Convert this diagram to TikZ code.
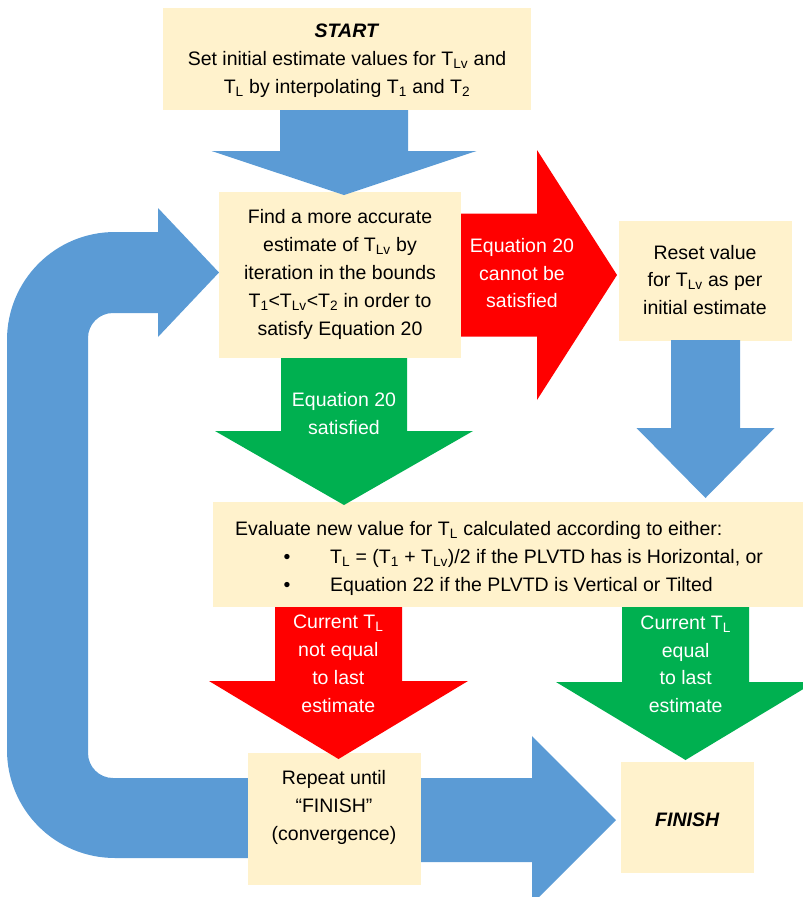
\documentclass[tikz,border=0pt]{standalone}
\usepackage{fontspec}
\setmainfont{Liberation Sans}
\definecolor{myblue}{HTML}{5B9BD5}
\definecolor{myred}{HTML}{FF0000}
\definecolor{mygreen}{HTML}{00B050}
\definecolor{cream}{HTML}{FFF2CC}
\newcommand{\sub}[1]{\textsubscript{#1}}
\newcommand{\NL}{\\\strut}
% color, cx, ytop, yhead, ytip, shaft half width, head half width
\newcommand{\dnarrow}[7]{\fill[#1] (#2-#6,#3) -- (#2+#6,#3) -- (#2+#6,#4) -- (#2+#7,#4) -- (#2,#5) -- (#2-#7,#4) -- (#2-#6,#4) -- cycle;}
% color, cy, xleft, xhead, xtip, shaft half height, head half height
\newcommand{\rtarrow}[7]{\fill[#1] (#3,#2-#6) -- (#4,#2-#6) -- (#4,#2-#7) -- (#5,#2) -- (#4,#2+#7) -- (#4,#2+#6) -- (#3,#2+#6) -- cycle;}
\begin{document}
\begin{tikzpicture}[x=1pt,y=-1pt,
  box/.style={fill=cream, draw=none, inner sep=0pt},
  txt/.style={align=center, inner sep=0pt, font=\fontsize{19.5}{27.8}\selectfont, execute at begin node=\strut},
  wtxt/.style={txt, text=white},
  line/.style={inner sep=0pt, font=\fontsize{19.5}{27.8}\selectfont}]
\useasboundingbox (0,0) rectangle (803,897);
\clip (0,0) rectangle (803,897);

% loop-back arrow (behind boxes)
\fill[myblue] (300,778) -- (113,778) .. controls (99.2,778) and (88,766.8) .. (88,753)
  -- (88,338) .. controls (88,324.2) and (99.2,313) .. (113,313)
  -- (158,313) -- (158,337) -- (219,272.5) -- (158,208) -- (158,232)
  -- (115,232) .. controls (55.2,232) and (7,280.2) .. (7,340)
  -- (7,750) .. controls (7,809.8) and (55.2,858) .. (115,858)
  -- (300,858) -- cycle;
% bottom arrow to FINISH
\rtarrow{myblue}{820}{400}{532}{616}{42}{84}

% boxes
\node[box, minimum width=368pt, minimum height=102pt] (start) at (347,59) {};
\node[box, minimum width=242pt, minimum height=166pt] (find) at (340,275) {};
\node[box, minimum width=173pt, minimum height=120pt] (reset) at (705.5,281) {};
\node[box, minimum width=590pt, minimum height=105pt] (eval) at (508,554.5) {};
\node[box, minimum width=173pt, minimum height=132pt] (repeat) at (334.5,819) {};
\node[box, minimum width=133pt, minimum height=111pt] (finish) at (687.5,817.5) {};

% block arrows
\dnarrow{myblue}{344}{110}{151}{195}{64}{132.5}
\rtarrow{myred}{275}{461}{537}{617}{61.5}{125}
\dnarrow{myblue}{705.5}{340}{428}{498}{34.5}{69}
\dnarrow{mygreen}{344}{358}{431}{505}{63}{129}
\dnarrow{myred}{338.5}{607}{681}{759}{63.5}{129.5}
\dnarrow{mygreen}{685.5}{607}{682}{760}{63.5}{129.5}

% texts in boxes
\node[txt] (starttxt) at (347,62.9) {\textbf{\textit{START}}\NL Set initial estimate values for T\sub{Lv} and\NL T\sub{L} by interpolating T\sub{1} and T\sub{2}};
\node[txt] (findtxt) at (340,276.7) {Find a more accurate\NL estimate of T\sub{Lv} by\NL iteration in the bounds\NL T\sub{1}<T\sub{Lv}<T\sub{2} in order to\NL satisfy Equation 20};
\node[txt] (resettxt) at (705,283.9) {Reset value\NL for T\sub{Lv} as per\NL initial estimate};
\node[line, anchor=base west] (eval1) at (235,535) {Evaluate new value for T\sub{L} calculated according to either:};
\node[line, anchor=base] (bul1) at (287,563) {•};
\node[line, anchor=base west] (eval2) at (330,563) {T\sub{L} = (T\sub{1} + T\sub{Lv})/2 if the PLVTD has is Horizontal, or};
\node[line, anchor=base] (bul2) at (287,591) {•};
\node[line, anchor=base west] (eval3) at (330,591) {Equation 22 if the PLVTD is Vertical or Tilted};
\node[txt] (repeattxt) at (334,809.5) {Repeat until\NL “FINISH”\NL (convergence)};
\node[txt] (finishtxt) at (687.3,821.1) {\textbf{\textit{FINISH}}};

% texts in arrows
\node[wtxt] (nosat) at (522,277.2) {Equation 20\NL cannot be\NL satisfied};
\node[wtxt] (sat) at (344,417.6) {Equation 20\NL satisfied};
\node[wtxt] (noteq) at (338.3,667.8) {Current T\sub{L}\NL not equal\NL to last\NL estimate};
\node[wtxt] (eq) at (685.7,668.4) {Current T\sub{L}\NL equal\NL to last\NL estimate};
\end{tikzpicture}
\end{document}
